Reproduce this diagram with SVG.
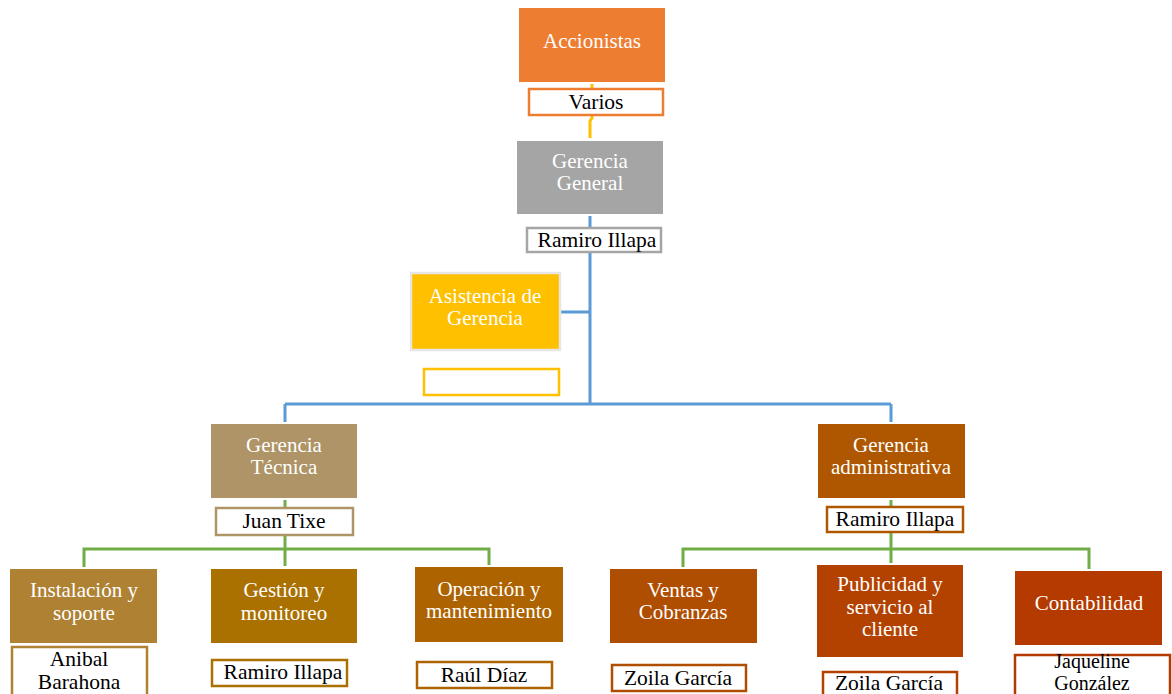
<svg xmlns="http://www.w3.org/2000/svg" width="1172" height="694" viewBox="0 0 1172 694">
<style>
text{font-family:"Liberation Serif","Times New Roman",serif;text-anchor:middle}
.n{fill:#fff;font-size:21px}
.p{fill:#000;font-size:21.5px}
.s{font-size:20px}
.nb{fill:#fff;stroke-width:2.5}
.c{fill:none;stroke-width:3}
</style>
<rect width="1172" height="694" fill="#fff"/>
<g id="connectors">
<path class="c" stroke="#FFC000" d="M592,84 V118 L590,121 V138"/>
<path class="c" stroke="#5B9BD5" d="M590,216 V404 M285,404 H891 M285,404 V422 M891,404 V422 M561,312 H590"/>
<path class="c" stroke="#70AD47" d="M285,500 V566 M84,567 V549 H489 V565"/>
<path class="c" stroke="#70AD47" d="M891,500 V563 M683,567 V549 H1089 V569"/>
</g>
<g id="accionistas"><rect x="519" y="8" width="146" height="74" fill="#ED7D31"/><text class="n" x="592" y="48">Accionistas</text></g>
<g id="varios"><rect class="nb" x="529" y="89" width="134" height="26" stroke="#ED7D31"/><text class="p" x="596" y="109">Varios</text></g>
<g id="gerencia-general"><rect x="517" y="141" width="146" height="73" fill="#A5A5A5"/><text class="n" x="590" y="168">Gerencia</text><text class="n" x="590" y="190">General</text></g>
<g id="gg-nombre"><rect class="nb" x="527" y="228" width="134" height="24" stroke="#A5A5A5"/><text class="p" x="597" y="247">Ramiro Illapa</text></g>
<g id="asistencia"><rect x="411" y="273" width="149" height="77" fill="#FFC000" stroke="#E7E6E6" stroke-width="2.5"/><text class="n" x="485" y="303">Asistencia de</text><text class="n" x="485" y="325">Gerencia</text></g>
<g id="asistencia-nombre"><rect class="nb" x="424" y="369" width="135" height="26" stroke="#FFC000"/></g>
<g id="gerencia-tecnica"><rect x="211" y="424" width="146" height="74" fill="#AE9466"/><text class="n" x="284" y="452">Gerencia</text><text class="n" x="284" y="474">Técnica</text></g>
<g id="gt-nombre"><rect class="nb" x="216" y="508" width="137" height="27" stroke="#AE9466"/><text class="p" x="284" y="528">Juan Tixe</text></g>
<g id="instalacion"><rect x="10" y="569" width="147" height="74" fill="#AF8133"/><text class="n" x="84" y="597">Instalación y</text><text class="n" x="84" y="620">soporte</text></g>
<g id="instalacion-nombre"><rect class="nb" x="12" y="647" width="135" height="50" stroke="#AF8133"/><text class="p" x="79" y="666">Anibal</text><text class="p" x="79" y="689">Barahona</text></g>
<g id="gestion"><rect x="211" y="569" width="146" height="74" fill="#AA7000"/><text class="n" x="284" y="597">Gestión y</text><text class="n" x="284" y="620">monitoreo</text></g>
<g id="gestion-nombre"><rect class="nb" x="212" y="660" width="135" height="26" stroke="#AA7000"/><text class="p" x="283" y="679">Ramiro Illapa</text></g>
<g id="operacion"><rect x="415" y="567" width="148" height="75" fill="#AD6300"/><text class="n" x="489" y="596">Operación y</text><text class="n" x="489" y="618">mantenimiento</text></g>
<g id="operacion-nombre"><rect class="nb" x="417" y="662" width="135" height="26" stroke="#AD6300"/><text class="p" x="484" y="682">Raúl Díaz</text></g>
<g id="gerencia-administrativa"><rect x="818" y="424" width="147" height="74" fill="#AF5700"/><text class="n" x="891" y="452">Gerencia</text><text class="n" x="891" y="474">administrativa</text></g>
<g id="ga-nombre"><rect class="nb" x="827" y="507" width="136" height="25" stroke="#AF5700"/><text class="p" x="895" y="526">Ramiro Illapa</text></g>
<g id="ventas"><rect x="610" y="569" width="147" height="74" fill="#AF4D00"/><text class="n" x="683" y="597">Ventas y</text><text class="n" x="683" y="619">Cobranzas</text></g>
<g id="ventas-nombre"><rect class="nb" x="612" y="665" width="134" height="26" stroke="#AF4D00"/><text class="p" x="678" y="685">Zoila García</text></g>
<g id="publicidad"><rect x="817" y="565" width="146" height="92" fill="#B34200"/><text class="n" x="890" y="591">Publicidad y</text><text class="n" x="890" y="614">servicio al</text><text class="n" x="890" y="636">cliente</text></g>
<g id="publicidad-nombre"><rect class="nb" x="823" y="672" width="134" height="26" stroke="#B34200"/><text class="p" x="889" y="690">Zoila García</text></g>
<g id="contabilidad"><rect x="1015" y="571" width="147" height="74" fill="#B43A00"/><text class="n" x="1089" y="610">Contabilidad</text></g>
<g id="contabilidad-nombre"><rect class="nb" x="1015" y="655" width="155" height="42" stroke="#B43A00"/><text class="p s" x="1092" y="668">Jaqueline</text><text class="p s" x="1092" y="690">González</text></g>
</svg>
